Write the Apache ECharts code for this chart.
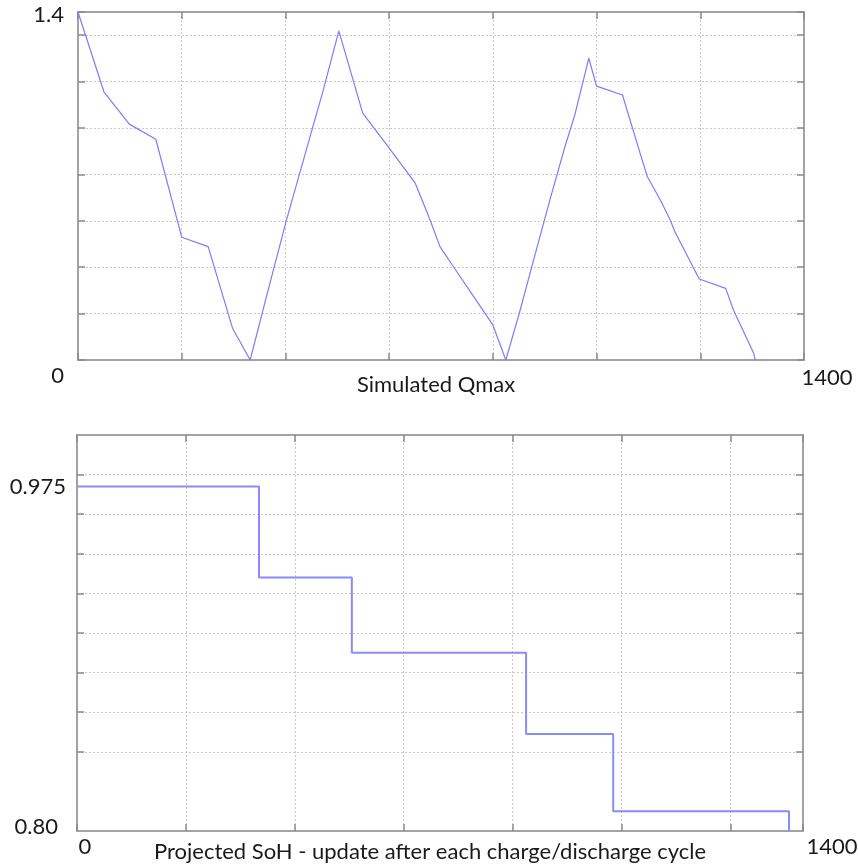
<!DOCTYPE html>
<html>
<head>
<meta charset="utf-8">
<script src="https://cdn.jsdelivr.net/npm/echarts@6/dist/echarts.min.js"></script>
<style>
html,body{margin:0;padding:0;background:#fff;}
#chart{width:858px;height:867px;}
</style>
</head>
<body>
<div id="chart"></div>
<script>
// ---- Top chart: Simulated Qmax ----
var qmaxX = [0, 50, 99, 150, 200, 251, 298, 332, 364, 402, 452, 473, 503, 549, 598, 650, 679, 698, 724, 763, 800, 825, 851, 875, 910, 939, 958, 985, 1000, 1050, 1084, 1098, 1123, 1142, 1151, 1198, 1249, 1264, 1303, 1306];
var qmaxY = [1.4, 1.079, 0.949, 0.888, 0.494, 0.456, 0.128, 0, 0.26, 0.563, 0.932, 1.086, 1.324, 0.993, 0.858, 0.713, 0.563, 0.456, 0.375, 0.255, 0.141, 0, 0.188, 0.375, 0.644, 0.858, 0.986, 1.214, 1.102, 1.066, 0.831, 0.737, 0.644, 0.563, 0.516, 0.326, 0.288, 0.201, 0.027, 0];
var topXMin = 0, topXMax = 1400, topXInterval = 200;
var topYMin = 0, topYMax = 1.4, topYInterval = 1.4 / 7.5;
var topYLabelValues = [0, 1.4];
var topYLabelTexts = ['0', '1.4'];
var topXLabelValues = [1400];
var topXLabelTexts = ['1400'];
var topTitle = 'Simulated Qmax';

// ---- Bottom chart: Projected SoH ----
var sohX = [0, 351, 530, 866, 1034, 1373];
var sohY = [0.974, 0.928, 0.890, 0.849, 0.810, 0.800];
var botXMin = 0, botXMax = 1400, botXInterval = 210;
var botYMin = 0.8, botYMax = 1.0;
var botYTickValues = [0.84, 0.86, 0.88, 0.90, 0.92, 0.94, 0.96, 0.98];
var botYLabelValues = [0.8, 0.975];
var botYLabelTexts = ['0.80', '0.975'];
var botXLabelValues = [0, 1400];
var botXLabelTexts = ['0', '1400'];
var botTitle = 'Projected SoH - update after each charge/discharge cycle';

var FONT = 'Lato';
var FS = 22;
var TXT = '#1a1a1a';
var axisLineStyle = {color: '#a3a3a3', width: 2};
var tickStyle = {show: true, inside: true, length: 7, lineStyle: {color: '#8a8a8a', width: 1.5}};
var gridLineStyle = {show: true, lineStyle: {color: '#c9c9c9', type: [2, 2], width: 1}};

function labelFor(values, texts) {
  return function (v) {
    for (var i = 0; i < values.length; i++) {
      if (Math.abs(values[i] - v) < 1e-6) return texts[i];
    }
    return '';
  };
}
function pairs(xs, ys) { return xs.map(function (x, i) { return [x, ys[i]]; }); }

var chart = echarts.init(document.getElementById('chart'), null, {renderer: 'canvas'});
var option = {
  animation: false,
  backgroundColor: '#ffffff',
  textStyle: {fontFamily: FONT},
  grid: [
    {left: 78, top: 12, width: 726, height: 348, containLabel: false, outerBoundsMode: 'none'},
    {left: 77, top: 435, width: 726, height: 396, containLabel: false, outerBoundsMode: 'none'}
  ],
  xAxis: [
    { // top chart bottom axis
      gridIndex: 0, type: 'value', position: 'bottom', min: topXMin, max: topXMax, interval: topXInterval,
      axisLine: {show: true, onZero: false, lineStyle: axisLineStyle},
      axisTick: tickStyle, splitLine: gridLineStyle,
      axisLabel: {
        customValues: topXLabelValues, margin: 7, color: TXT, fontFamily: FONT, fontSize: FS,
        formatter: function (v) { return '{r|' + labelFor(topXLabelValues, topXLabelTexts)(v) + '}'; },
        rich: {r: {padding: [0, 0, 0, 46], fontFamily: FONT, fontSize: FS, color: TXT}}
      },
      name: topTitle, nameLocation: 'middle', nameGap: 14, nameMoveOverlap: false,
      nameTextStyle: {fontFamily: FONT, fontSize: FS, color: TXT, padding: [0, 10, 0, 0]}
    },
    { // top chart top mirror
      gridIndex: 0, type: 'value', position: 'top', min: topXMin, max: topXMax, interval: topXInterval,
      axisLine: {show: true, onZero: false, lineStyle: axisLineStyle},
      axisTick: tickStyle, splitLine: {show: false}, axisLabel: {show: false}
    },
    { // bottom chart bottom axis
      gridIndex: 1, type: 'value', position: 'bottom', min: botXMin, max: botXMax, interval: botXInterval,
      axisLine: {show: true, onZero: false, lineStyle: axisLineStyle},
      axisTick: tickStyle, splitLine: gridLineStyle,
      axisLabel: {
        customValues: botXLabelValues, margin: 5, color: TXT, fontFamily: FONT, fontSize: FS,
        formatter: function (v) { return (v === 0 ? '{a|' : '{b|') + labelFor(botXLabelValues, botXLabelTexts)(v) + '}'; },
        rich: {
          a: {padding: [0, 0, 0, 16], fontFamily: FONT, fontSize: FS, color: TXT},
          b: {padding: [0, 0, 0, 58], fontFamily: FONT, fontSize: FS, color: TXT}
        }
      },
      name: botTitle, nameLocation: 'middle', nameGap: 10, nameMoveOverlap: false,
      nameTextStyle: {fontFamily: FONT, fontSize: FS, color: TXT, padding: [0, 20, 0, 0]}
    },
    { // bottom chart top mirror
      gridIndex: 1, type: 'value', position: 'top', min: botXMin, max: botXMax, interval: botXInterval,
      axisLine: {show: true, onZero: false, lineStyle: axisLineStyle},
      axisTick: tickStyle, splitLine: {show: false}, axisLabel: {show: false}
    }
  ],
  yAxis: [
    { // top chart left
      gridIndex: 0, type: 'value', position: 'left', min: topYMin, max: topYMax, interval: topYInterval,
      axisLine: {show: true, onZero: false, lineStyle: axisLineStyle},
      axisTick: tickStyle, splitLine: gridLineStyle,
      axisLabel: {
        customValues: topYLabelValues, margin: 14, color: TXT, fontFamily: FONT, fontSize: FS,
        formatter: function (v) { return (v === 0 ? '{lo|' : '{hi|') + labelFor(topYLabelValues, topYLabelTexts)(v) + '}'; },
        rich: {
          lo: {padding: [32, 0, 0, 0], fontFamily: FONT, fontSize: FS, color: TXT},
          hi: {padding: [6, 0, 0, 0], fontFamily: FONT, fontSize: FS, color: TXT}
        }
      }
    },
    { // top chart right mirror
      gridIndex: 0, type: 'value', position: 'right', min: topYMin, max: topYMax, interval: topYInterval,
      axisLine: {show: true, onZero: false, lineStyle: axisLineStyle},
      axisTick: tickStyle, splitLine: {show: false}, axisLabel: {show: false}
    },
    { // bottom chart left
      gridIndex: 1, type: 'value', position: 'left', min: botYMin, max: botYMax,
      axisLine: {show: true, onZero: false, lineStyle: axisLineStyle},
      axisTick: {show: true, inside: true, length: 7, customValues: botYTickValues, lineStyle: {color: '#8a8a8a', width: 1.5}},
      splitLine: gridLineStyle,
      axisLabel: {
        customValues: botYLabelValues, margin: 11, color: TXT, fontFamily: FONT, fontSize: FS,
        formatter: function (v) { return (Math.abs(v - 0.8) < 1e-6 ? '{lo|' : '{hi|') + labelFor(botYLabelValues, botYLabelTexts)(v) + '}'; },
        rich: {
          lo: {padding: [0, 8, 8, 0], fontFamily: FONT, fontSize: FS, color: TXT},
          hi: {padding: [4, 0, 0, 0], fontFamily: FONT, fontSize: FS, color: TXT}
        }
      }
    },
    { // bottom chart right mirror
      gridIndex: 1, type: 'value', position: 'right', min: botYMin, max: botYMax,
      axisLine: {show: true, onZero: false, lineStyle: axisLineStyle},
      axisTick: {show: true, inside: true, length: 7, customValues: botYTickValues, lineStyle: {color: '#8a8a8a', width: 1.5}},
      splitLine: {show: false}, axisLabel: {show: false}
    }
  ],
  series: [
    {
      type: 'line', xAxisIndex: 0, yAxisIndex: 0, data: pairs(qmaxX, qmaxY),
      showSymbol: false, lineStyle: {color: '#7c7cff', width: 1.2}, silent: true, clip: true
    },
    {
      type: 'line', xAxisIndex: 2, yAxisIndex: 2, data: pairs(sohX, sohY), step: 'end',
      showSymbol: false, lineStyle: {color: '#8a8aff', width: 2}, silent: true, clip: false
    }
  ]
};
chart.setOption(option);
</script>
</body>
</html>
